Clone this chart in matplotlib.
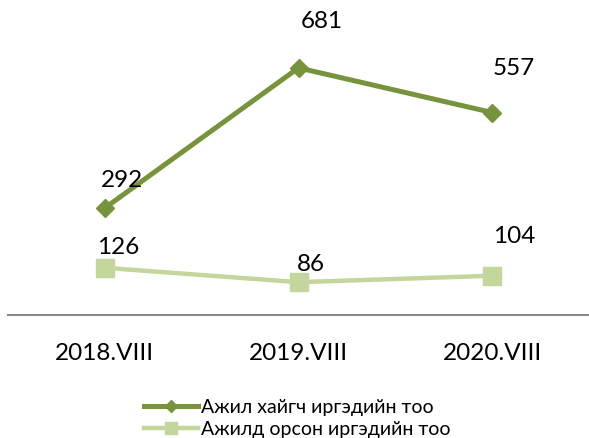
import matplotlib.pyplot as plt

plt.rcParams['font.family'] = ['Lato', 'DejaVu Sans']

years = ['2018.VIII', '2019.VIII', '2020.VIII']
seekers = [292, 681, 557]
employed = [126, 86, 104]
seekers_label = 'Ажил хайгч иргэдийн тоо'
employed_label = 'Ажилд орсон иргэдийн тоо'

dark = '#77933C'
light = '#C3D69B'

fig = plt.figure(figsize=(5.89, 4.38), dpi=100)
ax = fig.add_axes([8 / 589, 123 / 438, 581 / 589, 290 / 438])

x = range(len(years))
ax.plot(x, seekers, color=dark, lw=3.6, marker='D', ms=9, label=seekers_label)
ax.plot(x, employed, color=light, lw=3.2, marker='s', ms=13, label=employed_label)

# label offsets in pixels (hand placed like the original)
off_s = [(17, 28), (23, 46), (22, 44)]
off_e = [(13, 20), (12, 18), (22, 39)]
for i, v in enumerate(seekers):
    ax.annotate(str(v), (i, v), xytext=off_s[i], textcoords='offset pixels',
                ha='center', va='center', fontsize=17.5)
for i, v in enumerate(employed):
    ax.annotate(str(v), (i, v), xytext=off_e[i], textcoords='offset pixels',
                ha='center', va='center', fontsize=17.5)

ax.set_xlim(-0.5, 2.5)
ax.set_ylim(-5, 800)
ax.set_xticks(list(x))
ax.set_xticklabels(years, fontsize=17.5)
ax.tick_params(axis='x', length=0, pad=20)
ax.set_yticks([])
for s in ['top', 'right', 'left']:
    ax.spines[s].set_visible(False)
ax.spines['bottom'].set_color('#888888')
ax.spines['bottom'].set_linewidth(1.5)

fig.legend(loc='lower center', bbox_to_anchor=(0.505, -0.04), frameon=False,
           fontsize=14, handlelength=2.8, labelspacing=0.25, handletextpad=0.15,
           markerscale=0.65)

fig.savefig('out.png', dpi=100)
